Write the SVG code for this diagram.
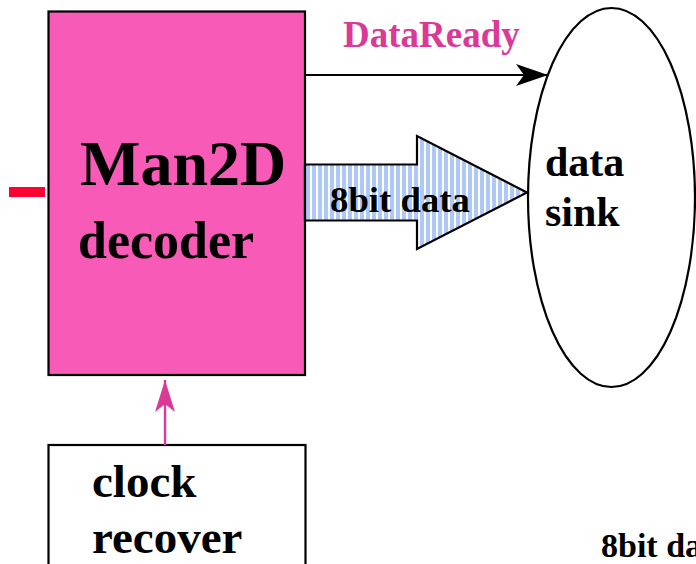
<svg xmlns="http://www.w3.org/2000/svg" width="696" height="564" viewBox="0 0 696 564">
  <style>
    .lbl { font-family: "Liberation Serif", "Times New Roman", serif; font-weight: bold; fill: #000; }
    .box { stroke: #000; stroke-width: 2.2; }
  </style>
  <defs>
    <pattern id="stripes" patternUnits="userSpaceOnUse" width="6" height="10">
      <rect width="6" height="10" fill="#ffffff"/>
      <rect width="4" height="10" fill="#aec9f6"/>
    </pattern>
    <marker id="barb" markerUnits="userSpaceOnUse" viewBox="0 0 32 22" refX="32" refY="11" markerWidth="32" markerHeight="22" orient="auto">
      <path d="M0,0 L32,11 L0,22 L8,11 Z" fill="#000"/>
    </marker>
    <marker id="barbPink" markerUnits="userSpaceOnUse" viewBox="0 0 32 20" refX="32" refY="10" markerWidth="32" markerHeight="20" orient="auto">
      <path d="M0,0 L32,10 L0,20 L8,10 Z" fill="#da3a96"/>
    </marker>
  </defs>

  <!-- input tick on the decoder's left side -->
  <rect x="9" y="187" width="36" height="10" fill="#ff0033"/>

  <g id="decoder">
    <rect class="box" x="48.5" y="11.5" width="256.5" height="363.5" fill="#f75ab7"/>
    <text class="lbl" x="80" y="185" font-size="64">Man2D</text>
    <text class="lbl" x="78" y="258" font-size="52">decoder</text>
  </g>

  <g id="clock-recover">
    <rect class="box" x="48.5" y="445" width="257" height="140" fill="#ffffff"/>
    <text class="lbl" x="92" y="497" font-size="47">clock</text>
    <text class="lbl" x="92" y="553" font-size="47">recover</text>
  </g>

  <g id="data-sink">
    <ellipse class="box" cx="611.5" cy="197.5" rx="83.5" ry="189.5" fill="#ffffff"/>
    <text class="lbl" x="545" y="176" font-size="42">data</text>
    <text class="lbl" x="545" y="226" font-size="42">sink</text>
  </g>

  <g id="connectors">
    <!-- DataReady strobe -->
    <line x1="305" y1="75" x2="548" y2="75" stroke="#000" stroke-width="2.2" marker-end="url(#barb)"/>
    <text x="343" y="47" font-size="37" font-family="Liberation Serif, Times New Roman, serif" font-weight="bold" fill="#da3a96">DataReady</text>
    <!-- 8-bit data bus -->
    <path d="M305,164.5 L417,164.5 L417,136 L527,192.5 L417,249 L417,220.5 L305,220.5 Z" fill="url(#stripes)" stroke="#000" stroke-width="2.2"/>
    <text class="lbl" x="330" y="212" font-size="36" textLength="140" lengthAdjust="spacingAndGlyphs">8bit data</text>
    <!-- recovered clock into decoder -->
    <line x1="165" y1="445" x2="165" y2="380" stroke="#da3a96" stroke-width="2.4" marker-end="url(#barbPink)"/>
  </g>

  <text class="lbl" x="601" y="557" font-size="34">8bit data</text>
</svg>
